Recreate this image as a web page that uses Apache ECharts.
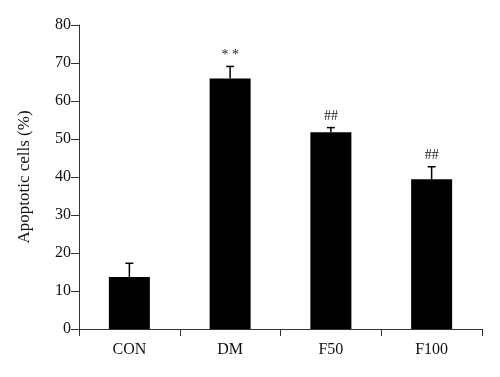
<!DOCTYPE html>
<html>
<head>
<meta charset="utf-8">
<script src="https://cdn.jsdelivr.net/npm/echarts@6/dist/echarts.min.js"></script>
<style>
html, body { margin: 0; padding: 0; background: #fff; }
#chart { width: 500px; height: 377px; }
</style>
</head>
<body>
<div id="chart"></div>
<script>
var categories = ['CON', 'DM', 'F50', 'F100'];
var means = [13.7, 65.9, 51.8, 39.4];
var errors = [3.6, 3.2, 1.2, 3.3];
var marks = ['', '* *', '##', '##'];
var yTicks = [0, 10, 20, 30, 40, 50, 60, 70, 80];

var chart = echarts.init(document.getElementById('chart'));

var errData = [];
for (var i = 0; i < categories.length; i++) {
	errData.push([i, means[i], errors[i]]);
}

var font = 'Liberation Serif';

var option = {
	animation: false,
	grid: {
		left: 79,
		right: 18,
		top: 25,
		bottom: 48
	},
	xAxis: {
		type: 'category',
		data: categories,
		axisLine: { lineStyle: { color: '#333', width: 1 } },
		axisTick: { show: true, length: 7, lineStyle: { color: '#333' } },
		axisLabel: { color: '#111', fontFamily: font, fontSize: 16, margin: 13 },
		splitLine: { show: false }
	},
	yAxis: {
		type: 'value',
		min: yTicks[0],
		max: yTicks[yTicks.length - 1],
		interval: 10,
		name: 'Apoptotic cells (%)',
		nameLocation: 'middle',
		nameGap: 46,
		nameRotate: 90,
		nameTextStyle: { color: '#111', fontFamily: font, fontSize: 17 },
		axisLine: { show: true, lineStyle: { color: '#333', width: 1 } },
		axisTick: { show: true, length: 8, lineStyle: { color: '#333' } },
		axisLabel: { color: '#111', fontFamily: font, fontSize: 16, margin: 8 },
		splitLine: { show: false }
	},
	series: [{
		type: 'bar',
		data: means,
		barWidth: 41,
		itemStyle: { color: '#000' },
		z: 2
	}, {
		type: 'custom',
		data: errData,
		z: 3,
		renderItem: function (params, api) {
			var idx = api.value(0);
			var m = api.value(1);
			var e = api.value(2);
			var base = api.coord([idx, m]);
			var top = api.coord([idx, m + e]);
			var hw = 4;
			return {
				type: 'group',
				children: [{
					type: 'line',
					shape: { x1: base[0], y1: base[1], x2: top[0], y2: top[1] },
					style: { stroke: '#000', lineWidth: 1.5 }
				}, {
					type: 'line',
					shape: { x1: top[0] - hw, y1: top[1], x2: top[0] + hw, y2: top[1] },
					style: { stroke: '#000', lineWidth: 1.5 }
				}, {
					type: 'text',
					x: top[0],
					y: top[1] - 4,
					style: {
						text: marks[params.dataIndex],
						fill: '#222',
						font: '14px "Liberation Serif"',
						align: 'center',
						verticalAlign: 'bottom'
					}
				}]
			};
		}
	}]
};

chart.setOption(option);
</script>
</body>
</html>
